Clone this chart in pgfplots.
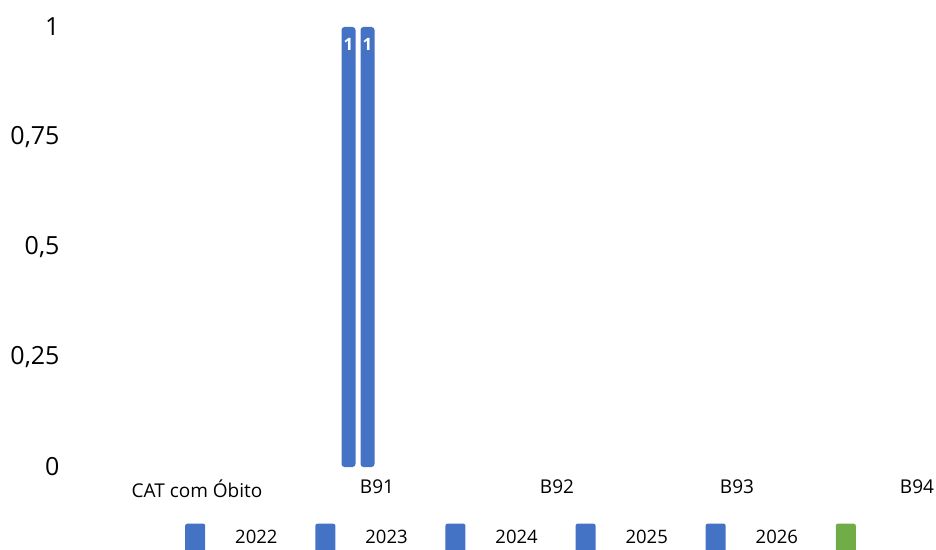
\documentclass[border=0pt]{standalone}
\usepackage{pgfplots}
\pgfplotsset{compat=1.18}
\usepackage{fontspec}
\setmainfont{Open Sans}
\definecolor{barblue}{HTML}{4472C4}
\definecolor{bargreen}{HTML}{70AD47}
\newcommand{\ytickfont}{\fontsize{25}{27}\selectfont}
\newcommand{\catfont}{\fontsize{19}{22}\selectfont}
\newcommand{\legfont}{\fontsize{18.5}{21}\selectfont}
\newcommand{\valfont}{\bfseries\fontsize{17}{18}\selectfont}
\begin{document}
\begin{tikzpicture}
\path[use as bounding box] (0,0) rectangle (936pt,549pt);
\clip (0,0) rectangle (936pt,549pt);
\begin{axis}[
    at={(107pt,82pt)}, anchor=south west,
    width=900pt, height=440pt, scale only axis,
    ybar, bar width=14pt,
    xmin=-0.5, xmax=4.5,
    ymin=0, ymax=1,
    xtick={0,1,2,3,4},
    xticklabels={CAT com Óbito,B91,B92,B93,B94},
    ytick={0,0.25,0.5,0.75,1},
    axis line style={draw=none},
    major tick length=0pt,
    /pgf/number format/use comma,
    /pgf/number format/assume math mode=true,
    yticklabel style={font=\ytickfont, anchor=east, xshift=-44pt},
    xticklabel style={font=\catfont, anchor=north, yshift=-9pt},
    legend columns=6,
    legend style={at={(0.0867,-0.163)}, anchor=west, draw=none, fill=none,
        inner sep=0pt, font=\legfont,
        /tikz/every even column/.append style={column sep=35.8pt}},
    legend image code/.code={
        \path[draw=none, fill=none] (0pt,-1pt) rectangle (48pt,1pt);
        \fill[fill opacity=1, rounded corners=2pt] (0pt,-16pt) rectangle (20pt,14pt);},
]
\addplot[draw=none, fill=barblue, fill opacity=0, bar shift=-47.5pt] coordinates {(1,0)};
\addlegendentry{2022}
\addplot[draw=none, fill=barblue, bar shift=-28.5pt, rounded corners=3pt,
    nodes near coords, nodes near coords style={anchor=north, text=white,
    font=\valfont, yshift=-8pt}] coordinates {(1,1)};
\addlegendentry{2023}
\addplot[draw=none, fill=barblue, bar shift=-9.5pt, rounded corners=3pt,
    nodes near coords, nodes near coords style={anchor=north, text=white,
    font=\valfont, yshift=-8pt}] coordinates {(1,1)};
\addlegendentry{2024}
\addplot[draw=none, fill=barblue, fill opacity=0, bar shift=9.5pt] coordinates {(1,0)};
\addlegendentry{2025}
\addplot[draw=none, fill=barblue, fill opacity=0, bar shift=28.5pt] coordinates {(1,0)};
\addlegendentry{2026}
\addplot[draw=none, fill=bargreen, fill opacity=0, bar shift=47.5pt] coordinates {(1,0)};
\addlegendentry{\phantom{0}}
\end{axis}
\end{tikzpicture}
\end{document}
